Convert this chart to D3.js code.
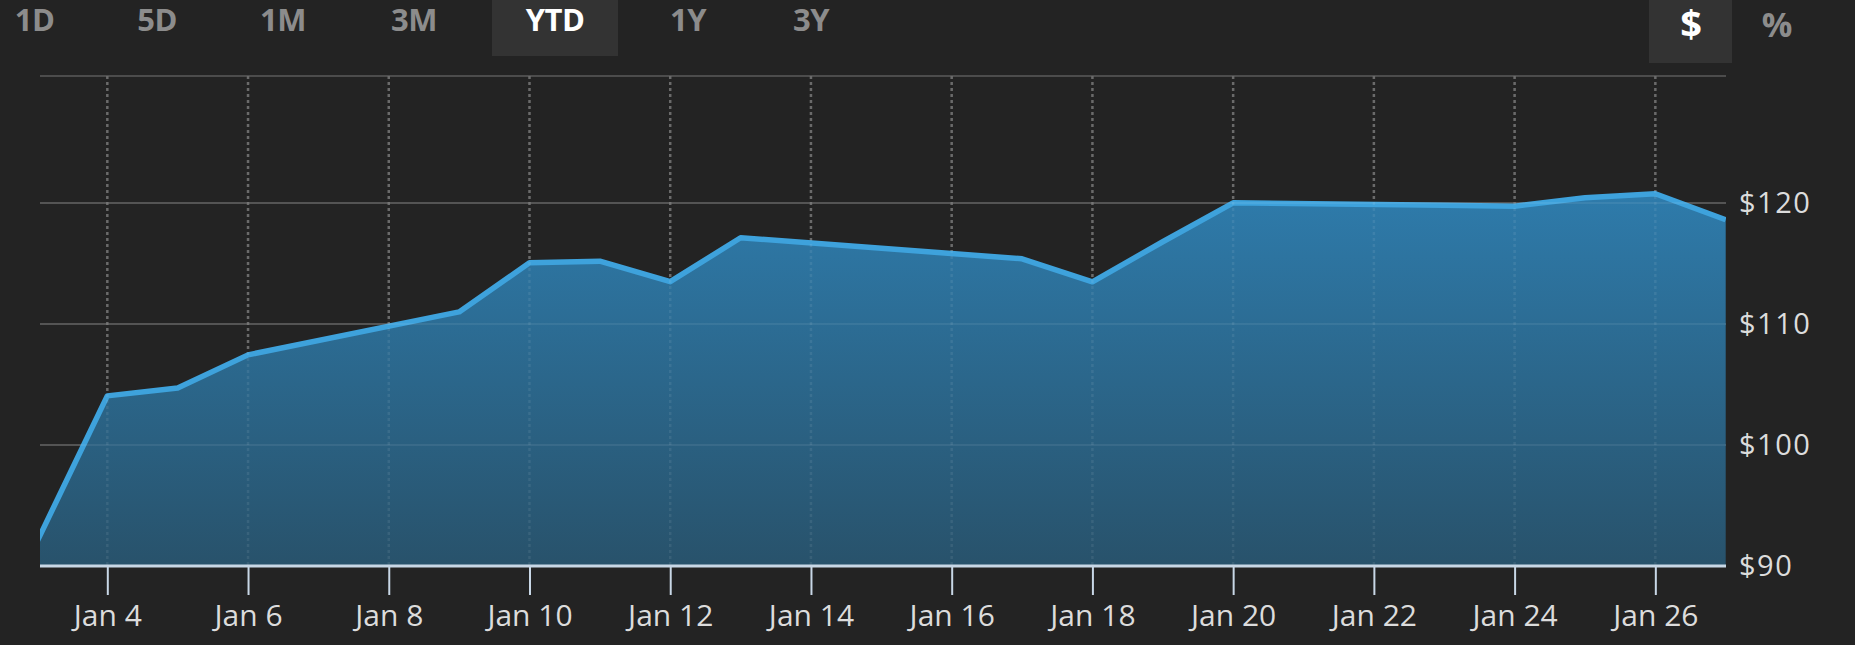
<!DOCTYPE html>
<html>
<head>
<meta charset="utf-8">
<script src="https://cdn.jsdelivr.net/npm/d3@7"></script>
<style>
  html, body { margin: 0; padding: 0; background: #232323; }
  svg { display: block; }
</style>
</head>
<body>
<svg id="chart" width="1855" height="645"></svg>
<script>
// ---- data ----
const dates = ["2023-01-03","2023-01-04","2023-01-05","2023-01-06","2023-01-09","2023-01-10",
  "2023-01-11","2023-01-12","2023-01-13","2023-01-17","2023-01-18","2023-01-19","2023-01-20",
  "2023-01-23","2023-01-24","2023-01-25","2023-01-26","2023-01-27"];
const prices = [92.0, 104.06, 104.72, 107.45, 111.0, 115.06, 115.19, 113.5, 117.13,
  115.39, 113.49, 116.8, 120.02, 119.82, 119.74, 120.44, 120.77, 118.62];
const tickDates = ["2023-01-04","2023-01-06","2023-01-08","2023-01-10","2023-01-12","2023-01-14",
  "2023-01-16","2023-01-18","2023-01-20","2023-01-22","2023-01-24","2023-01-26"];
const tickLabels = ["Jan 4","Jan 6","Jan 8","Jan 10","Jan 12","Jan 14","Jan 16","Jan 18",
  "Jan 20","Jan 22","Jan 24","Jan 26"];
const yTicks = [90, 100, 110, 120];
const yTickLabels = ["$90", "$100", "$110", "$120"];
const rangeTabs = ["1D","5D","1M","3M","YTD","1Y","3Y"];
const activeTab = "YTD";
const unitTabs = ["$", "%"];
const activeUnit = "$";

// ---- layout ----
const svg = d3.select("#chart");
const plotL = 40, plotR = 1726, plotT = 76, plotB = 566;
const parse = d3.utcParse("%Y-%m-%d");
const data = dates.map((d, i) => ({ date: parse(d), value: prices[i] }));

const x = d3.scaleUtc()
  .domain([parse("2023-01-03"), parse("2023-01-27")])
  .range([36.94, 1725.7]);
const y = d3.scaleLinear().domain([90, 130.5]).range([plotB, plotT]);

const defs = svg.append("defs");
defs.append("clipPath").attr("id", "plotClip")
  .append("rect").attr("x", plotL).attr("y", 0).attr("width", plotR - plotL).attr("height", plotB);
const grad = defs.append("linearGradient").attr("id", "areaGrad")
  .attr("gradientUnits", "userSpaceOnUse")
  .attr("x1", 0).attr("x2", 0).attr("y1", 194).attr("y2", plotB);
grad.append("stop").attr("offset", "0%").attr("stop-color", "#2e7bab");
grad.append("stop").attr("offset", "100%").attr("stop-color", "#28526b");

// gridlines beneath the area
const gridUnder = svg.append("g");
gridUnder.selectAll("line.h").data(yTicks.filter(v => v > 90)).join("line")
  .attr("x1", plotL).attr("x2", plotR)
  .attr("y1", d => y(d)).attr("y2", d => y(d))
  .attr("stroke", "#474747").attr("stroke-width", 2);
gridUnder.append("line")
  .attr("x1", plotL).attr("x2", plotR).attr("y1", plotT).attr("y2", plotT)
  .attr("stroke", "#4c4c4c").attr("stroke-width", 2);
gridUnder.selectAll("line.v").data(tickDates).join("line")
  .attr("x1", d => x(parse(d))).attr("x2", d => x(parse(d)))
  .attr("y1", plotT).attr("y2", plotB)
  .attr("stroke", "#5e5e5e").attr("stroke-width", 2.5).attr("stroke-dasharray", "3,3");

// area + line
const plot = svg.append("g").attr("clip-path", "url(#plotClip)");
const area = d3.area().x(d => x(d.date)).y0(y(90)).y1(d => y(d.value));
const line = d3.line().x(d => x(d.date)).y(d => y(d.value));
plot.append("path").datum(data).attr("d", area).attr("fill", "url(#areaGrad)");

// faint gridlines over the area
const gridOver = svg.append("g");
gridOver.selectAll("line.h").data(yTicks.filter(v => v > 90)).join("line")
  .attr("x1", plotL).attr("x2", plotR)
  .attr("y1", d => y(d)).attr("y2", d => y(d))
  .attr("stroke", "rgba(255,255,255,0.07)").attr("stroke-width", 2);
gridOver.selectAll("line.v").data(tickDates).join("line")
  .attr("x1", d => x(parse(d))).attr("x2", d => x(parse(d)))
  .attr("y1", plotT).attr("y2", plotB)
  .attr("stroke", "rgba(255,255,255,0.08)").attr("stroke-width", 2.5).attr("stroke-dasharray", "3,3");

plot.append("path").datum(data).attr("d", line)
  .attr("fill", "none").attr("stroke", "#3ea2dc").attr("stroke-width", 5.5)
  .attr("stroke-linejoin", "round");

// x axis
const xAxis = d3.axisBottom(x)
  .tickValues(tickDates.map(parse))
  .tickFormat((d, i) => tickLabels[i])
  .tickSize(29).tickSizeOuter(0);
const gx = svg.append("g").attr("transform", `translate(0,${plotB})`).call(xAxis);
gx.select(".domain").remove();
gx.selectAll(".tick line").attr("stroke", "#c8d7e6").attr("stroke-width", 2);
gx.selectAll(".tick text")
  .attr("y", 60).attr("dy", 0)
  .attr("fill", "#dcdcdc")
  .style("font-family", "'Open Sans', sans-serif")
  .style("font-size", "30px");
svg.append("line")
  .attr("x1", plotL).attr("x2", plotR).attr("y1", plotB).attr("y2", plotB)
  .attr("stroke", "#c8d7e6").attr("stroke-width", 3);

// y axis
const yAxis = d3.axisRight(y).tickValues(yTicks)
  .tickFormat((d, i) => yTickLabels[i]).tickSize(0).tickPadding(0);
const gy = svg.append("g").attr("transform", `translate(1739,0)`).call(yAxis);
gy.select(".domain").remove();
gy.selectAll(".tick text")
  .attr("fill", "#dcdcdc")
  .attr("dy", "0.34em")
  .style("font-family", "'Open Sans', sans-serif")
  .style("font-size", "29px")
  .style("letter-spacing", "1.5px");

// range tabs (centres laid out as in the original toolbar)
const tabFont = "'Open Sans', sans-serif";
const tabCenters = [34.5, 157, 283, 414, 555, 688, 811];
const tabG = svg.append("g");
tabG.append("rect")
  .attr("x", tabCenters[rangeTabs.indexOf(activeTab)] - 63).attr("y", 0)
  .attr("width", 126).attr("height", 56).attr("fill", "#333333");
tabG.selectAll("text").data(rangeTabs).join("text")
  .attr("x", (d, i) => tabCenters[i]).attr("y", 31)
  .attr("text-anchor", "middle")
  .attr("fill", d => d === activeTab ? "#ffffff" : "#8c8c8c")
  .style("font-family", tabFont).style("font-weight", 700)
  .style("font-size", "31px").style("letter-spacing", "-0.5px")
  .text(d => d);

// unit tabs
const unitCenters = [1691, 1777];
const unitG = svg.append("g");
unitG.append("rect").attr("x", 1649).attr("y", 0).attr("width", 83).attr("height", 63)
  .attr("fill", "#333333");
unitG.selectAll("text").data(unitTabs).join("text")
  .attr("x", (d, i) => unitCenters[i])
  .attr("y", (d) => d === "$" ? 38 : 37)
  .attr("text-anchor", "middle")
  .attr("fill", d => d === activeUnit ? "#ffffff" : "#8c8c8c")
  .style("font-family", tabFont).style("font-weight", 700)
  .style("font-size", d => d === "$" ? "38px" : "34px")
  .text(d => d);
</script>
</body>
</html>
